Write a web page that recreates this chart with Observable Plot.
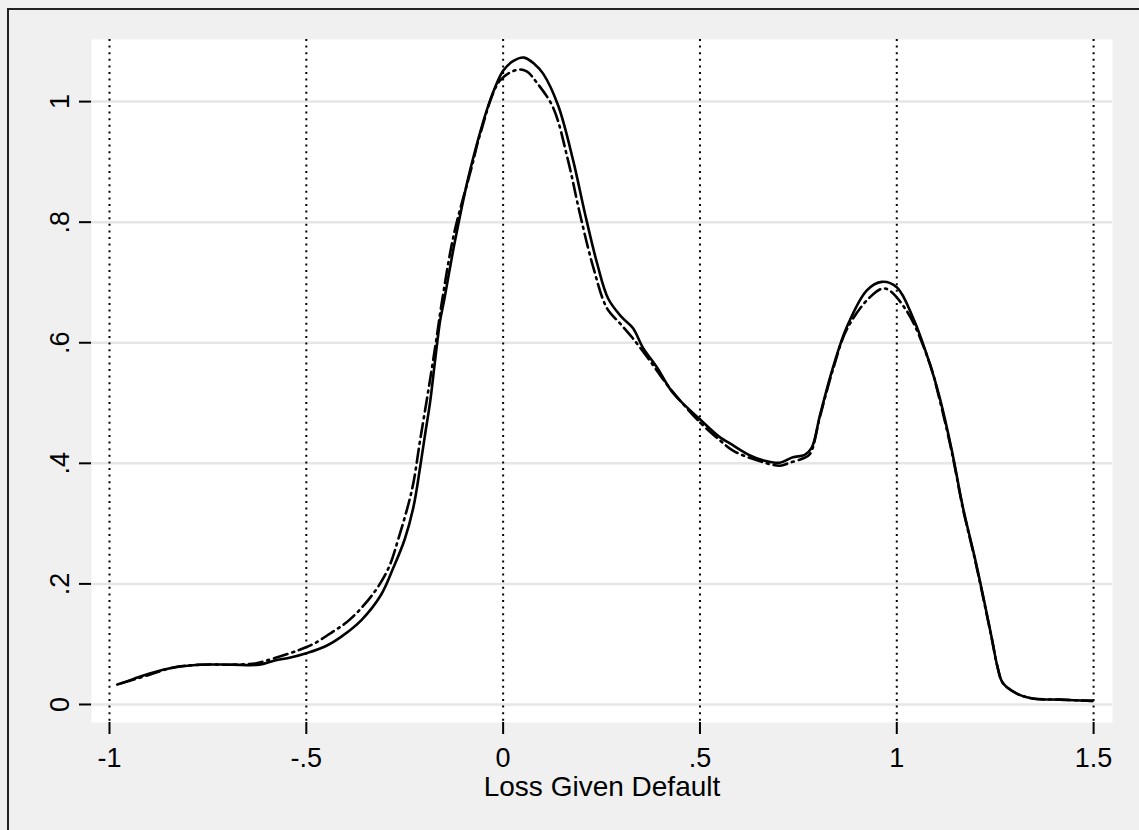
<!DOCTYPE html>
<html><head><meta charset="utf-8">
<script src="https://cdn.jsdelivr.net/npm/d3@7"></script>
<script src="https://cdn.jsdelivr.net/npm/@observablehq/plot@0.6"></script>
<style>
html,body{margin:0;padding:0;background:#f0f0f0;overflow:hidden;}
#wrap{position:relative;width:1139px;height:830px;}
#border{position:absolute;left:7px;top:8px;width:1300px;height:1000px;border:2px solid #222;box-sizing:border-box;pointer-events:none}
</style></head>
<body><div id="wrap"><div id="chart"></div><div id="border"></div></div>
<script>
const xTicks = [-1, -0.5, 0, 0.5, 1, 1.5];
const yTicks = [0, 0.2, 0.4, 0.6, 0.8, 1];
const xTitle = "Loss Given Default";

const solidX = [-0.98,-0.94,-0.90,-0.84,-0.77,-0.69,-0.62,-0.58,-0.54,-0.50,-0.45,-0.41,-0.36,-0.31,-0.28,-0.25,-0.228,-0.211,-0.198,-0.185,-0.173,-0.160,-0.150,-0.122,-0.084,-0.033,0.0,0.025,0.053,0.080,0.102,0.140,0.178,0.208,0.239,0.267,0.302,0.330,0.355,0.391,0.431,0.500,0.551,0.576,0.627,0.660,0.703,0.736,0.766,0.784,0.805,0.838,0.873,0.924,0.962,1.000,1.041,1.084,1.109,1.140,1.168,1.198,1.218,1.241,1.256,1.269,1.305,1.345,1.414,1.497];
const solidY = [0.033,0.042,0.051,0.061,0.066,0.066,0.066,0.073,0.078,0.085,0.097,0.113,0.140,0.182,0.225,0.274,0.327,0.393,0.449,0.504,0.570,0.637,0.670,0.770,0.886,1.002,1.051,1.067,1.073,1.062,1.046,0.993,0.902,0.814,0.731,0.673,0.642,0.624,0.592,0.559,0.517,0.473,0.443,0.433,0.413,0.405,0.401,0.410,0.414,0.426,0.480,0.559,0.626,0.687,0.701,0.692,0.642,0.565,0.509,0.421,0.327,0.244,0.184,0.111,0.062,0.036,0.018,0.010,0.008,0.006];

const dashX = [-0.97,-0.90,-0.84,-0.77,-0.69,-0.63,-0.60,-0.52,-0.48,-0.43,-0.40,-0.36,-0.32,-0.29,-0.266,-0.231,-0.211,-0.19,-0.17,-0.155,-0.125,-0.080,-0.058,-0.008,0.038,0.060,0.086,0.127,0.165,0.195,0.229,0.264,0.297,0.330,0.373,0.424,0.500,0.551,0.584,0.645,0.703,0.728,0.761,0.779,0.805,0.838,0.873,0.931,0.970,1.025,1.084,1.109,1.140,1.168,1.198,1.218,1.241,1.256,1.269,1.305,1.345,1.414,1.497];
const dashY = [0.035,0.049,0.061,0.066,0.066,0.068,0.073,0.090,0.101,0.122,0.135,0.160,0.193,0.228,0.275,0.358,0.438,0.521,0.604,0.670,0.780,0.891,0.947,1.035,1.053,1.050,1.031,0.990,0.902,0.814,0.725,0.657,0.632,0.607,0.570,0.524,0.468,0.438,0.421,0.405,0.396,0.401,0.408,0.415,0.478,0.556,0.622,0.675,0.690,0.653,0.565,0.505,0.418,0.325,0.242,0.182,0.110,0.062,0.036,0.018,0.010,0.008,0.006];

const fmt = d => d === 0 ? "0" : String(d).replace(/^(-?)0\./, "$1.");

const chart = Plot.plot({
  width: 1139, height: 830,
  marginLeft: 91, marginRight: 27, marginTop: 39, marginBottom: 108,
  style: {background: "#f0f0f0", fontFamily: "'Liberation Sans', Arial, sans-serif", fontSize: "27px", color: "#000"},
  x: {domain: [-1.0457, 1.548]},
  y: {domain: [-0.0299, 1.103]},
  marks: [
    Plot.frame({fill: "white", stroke: null}),
    Plot.gridY(yTicks, {stroke: "#e6e6e6", strokeWidth: 2.5, strokeOpacity: 1}),
    Plot.gridX(xTicks, {stroke: "#000", strokeWidth: 2, strokeOpacity: 1, strokeDasharray: "2,4.6"}),
    Plot.axisY(yTicks, {tickSize: 12, tickPadding: 11, tickRotate: -90, tickFormat: fmt, line: true, strokeWidth: 2, label: null, fontSize: 27}),
    Plot.axisX(xTicks, {tickSize: 12, tickPadding: 13, tickFormat: fmt, line: true, strokeWidth: 2, label: null, fontSize: 27}),
    Plot.text([xTitle], {text: d => d, frameAnchor: "bottom", dy: 65, lineAnchor: "middle", fontSize: 28, fill: "#000"}),
    Plot.line(dashX, {x: dashX, y: dashY, stroke: "#000", strokeWidth: 2.6, strokeDasharray: "14,5,2,5", curve: "catmull-rom"}),
    Plot.line(solidX, {x: solidX, y: solidY, stroke: "#000", strokeWidth: 2.6, curve: "catmull-rom"})
  ]
});
document.getElementById("chart").appendChild(chart);
</script>
</body></html>
